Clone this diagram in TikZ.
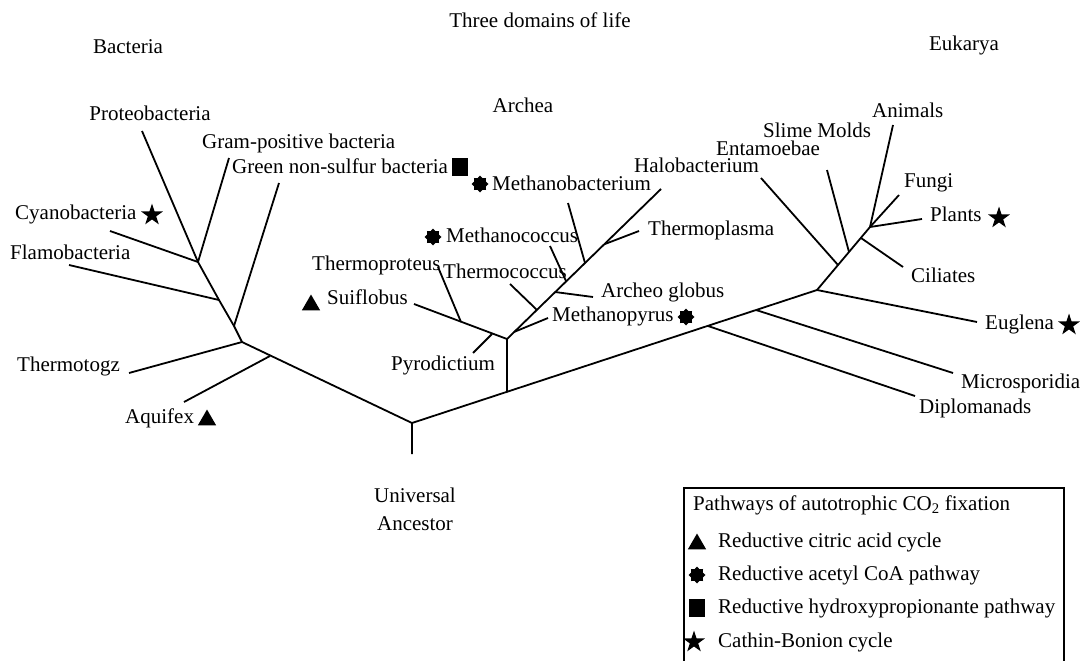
\documentclass[tikz,border=0pt]{standalone}
\usepackage{fontspec}
\setmainfont{Liberation Serif}
\usetikzlibrary{shapes.geometric}

\begin{document}
\begin{tikzpicture}[
        x=1pt, y=-1pt,
        every node/.style={font=\fontsize{21}{28}\selectfont},
        taxon/.style={anchor=west, inner sep=0pt, text height=14pt, text depth=4pt},
        branch/.style={line width=1.8pt, line join=round},
        tri/.style={regular polygon, regular polygon sides=3, fill=black, inner sep=0pt, minimum size=21pt},
        coa/.style={star, star points=8, star point ratio=1.35, fill=black, inner sep=0pt, minimum size=17pt},
        sqr/.style={rectangle, fill=black, inner sep=0pt, minimum width=16pt, minimum height=18pt},
        cbstar/.style={star, star points=5, star point ratio=2.6, fill=black, inner sep=0pt, minimum size=23pt}
    ]
    \useasboundingbox (0,0) rectangle (1084,661);

    % headings
    \node (title) at (540,20) {Three domains of life};
    \node (bact) at (128,47) {Bacteria};
    \node (arch) at (523,105) {Archea};
    \node (euk) at (964,45) {Eukarya};

    % root
    \coordinate (root) at (412,423);
    \coordinate (ua-tip) at (412,454);
    \node[align=center] (ua) at (415,509) {Universal\\Ancestor};

    % bacteria
    \coordinate (bj1) at (242,342);
    \coordinate (aq-j) at (270,356);
    \coordinate (gn-j) at (234,326);
    \coordinate (fl-j) at (219,300);
    \coordinate (gp-j) at (198,262);
    \coordinate (pr-tip) at (142,131);
    \coordinate (gp-tip) at (229,158);
    \coordinate (gn-tip) at (279,183);
    \coordinate (cy-tip) at (110,231);
    \coordinate (fl-tip) at (69,265);
    \coordinate (tt-tip) at (129,373);
    \coordinate (aq-tip) at (184,402);

    \node (proteo) at (150,113) {Proteobacteria};
    \node[taxon] (gram) at (202,143) {Gram-positive bacteria};
    \node[taxon] (green) at (232,168) {Green non-sulfur bacteria};
    \node[taxon] (cyano) at (15,214) {Cyanobacteria};
    \node[taxon] (flamo) at (10,254) {Flamobacteria};
    \node[taxon] (thermotogz) at (17,366) {Thermotogz};
    \node[taxon] (aquifex) at (125,418) {Aquifex};
    \node[cbstar] (cyano-m) at (152,215) {};
    \node[tri] (aquifex-m) at (207,420) {};
    \node[sqr] (green-m) at (460,167) {};

    % archea
    \coordinate (aj0) at (507,392);
    \coordinate (aj1) at (507,339);
    \coordinate (tp-j) at (461,322);
    \coordinate (py-j) at (492,334);
    \coordinate (mp-j) at (514,332);
    \coordinate (tc-j) at (537,310);
    \coordinate (ag-j) at (555,292);
    \coordinate (mc-j) at (566,281);
    \coordinate (mb-j) at (585,263);
    \coordinate (tpl-j) at (605,244);
    \coordinate (su-tip) at (414,304);
    \coordinate (tp-tip) at (438,267);
    \coordinate (py-tip) at (473,353);
    \coordinate (mp-tip) at (548,318);
    \coordinate (tc-tip) at (510,284);
    \coordinate (ag-tip) at (593,297);
    \coordinate (mc-tip) at (550,246);
    \coordinate (mb-tip) at (568,203);
    \coordinate (tpl-tip) at (639,231);
    \coordinate (hb-tip) at (661,189);

    \node[taxon] (halo) at (634,167) {Halobacterium};
    \node[taxon] (mbact) at (492,185) {Methanobacterium};
    \node[taxon] (mcoc) at (446,237) {Methanococcus};
    \node[taxon] (tplasma) at (648,230) {Thermoplasma};
    \node[taxon] (tproteus) at (312,265) {Thermoproteus};
    \node[taxon] (tcoc) at (443,273) {Thermococcus};
    \node[taxon] (aglob) at (601,292) {Archeo globus};
    \node[taxon] (suif) at (327,299) {Suiflobus};
    \node[taxon] (mpyr) at (552,316) {Methanopyrus};
    \node[taxon] (pyro) at (391,365) {Pyrodictium};
    \node[coa] (mbact-m) at (480,184) {};
    \node[coa] (mcoc-m) at (433,237) {};
    \node[coa] (mpyr-m) at (686,317) {};
    \node[tri] (suif-m) at (311,305) {};

    % eukarya
    \coordinate (ej0) at (817,290);
    \coordinate (dp-j) at (708,326);
    \coordinate (ms-j) at (756,310);
    \coordinate (ej1) at (870,227);
    \coordinate (en-j) at (838,265);
    \coordinate (sm-j) at (849,252);
    \coordinate (ci-j) at (861,238);
    \coordinate (an-tip) at (893,125);
    \coordinate (fu-tip) at (899,195);
    \coordinate (pl-tip) at (922,219);
    \coordinate (ci-tip) at (903,267);
    \coordinate (sm-tip) at (827,170);
    \coordinate (en-tip) at (761,178);
    \coordinate (eu-tip) at (977,322);
    \coordinate (ms-tip) at (953,373);
    \coordinate (dp-tip) at (915,396);

    \node[taxon] (animals) at (872,112) {Animals};
    \node[taxon] (slime) at (763,132) {Slime Molds};
    \node[taxon] (entam) at (716,150) {Entamoebae};
    \node[taxon] (fungi) at (904,182) {Fungi};
    \node[taxon] (plants) at (930,216) {Plants};
    \node[taxon] (ciliates) at (911,277) {Ciliates};
    \node[taxon] (euglena) at (985,324) {Euglena};
    \node[taxon] (micro) at (961,383) {Microsporidia};
    \node[taxon] (diplo) at (919,408) {Diplomanads};
    \node[cbstar] (plants-m) at (999,218) {};
    \node[cbstar] (euglena-m) at (1069,325) {};

    % branches
    \draw[branch] (ua-tip) -- (root) -- (bj1);
    \draw[branch] (root) -- (ej0);
    \draw[branch] (bj1) -- (gn-j) -- (fl-j) -- (gp-j) -- (pr-tip);
    \draw[branch] (aq-j) -- (aq-tip);
    \draw[branch] (bj1) -- (tt-tip);
    \draw[branch] (gn-j) -- (gn-tip);
    \draw[branch] (fl-j) -- (fl-tip);
    \draw[branch] (gp-j) -- (gp-tip);
    \draw[branch] (gp-j) -- (cy-tip);

    \draw[branch] (aj0) -- (aj1) -- (su-tip);
    \draw[branch] (tp-j) -- (tp-tip);
    \draw[branch] (py-j) -- (py-tip);
    \draw[branch] (aj1) -- (hb-tip);
    \draw[branch] (mp-j) -- (mp-tip);
    \draw[branch] (tc-j) -- (tc-tip);
    \draw[branch] (ag-j) -- (ag-tip);
    \draw[branch] (mc-j) -- (mc-tip);
    \draw[branch] (mb-j) -- (mb-tip);
    \draw[branch] (tpl-j) -- (tpl-tip);

    \draw[branch] (dp-j) -- (dp-tip);
    \draw[branch] (ms-j) -- (ms-tip);
    \draw[branch] (ej0) -- (eu-tip);
    \draw[branch] (ej0) -- (ej1) -- (an-tip);
    \draw[branch] (ej1) -- (fu-tip);
    \draw[branch] (ej1) -- (pl-tip);
    \draw[branch] (en-j) -- (en-tip);
    \draw[branch] (sm-j) -- (sm-tip);
    \draw[branch] (ci-j) -- (ci-tip);

    % legend
    \coordinate (lg-sw) at (684,661);
    \coordinate (lg-nw) at (684,488);
    \coordinate (lg-ne) at (1064,488);
    \coordinate (lg-se) at (1064,661);
    \draw[line width=1.3pt] (lg-sw) -- (lg-nw) -- (lg-ne) -- (lg-se);
    \node[taxon] (lg-title) at (693,505) {Pathways of autotrophic CO\textsubscript{2} fixation};
    \node[tri] (lg-m1) at (697,544) {};
    \node[coa] (lg-m2) at (697,575) {};
    \node[sqr] (lg-m3) at (697,608) {};
    \node[cbstar] (lg-m4) at (694,642) {};
    \node[taxon] (lg-t1) at (718,542) {Reductive citric acid cycle};
    \node[taxon] (lg-t2) at (718,575) {Reductive acetyl CoA pathway};
    \node[taxon] (lg-t3) at (718,608) {Reductive hydroxypropionante pathway};
    \node[taxon] (lg-t4) at (718,642) {Cathin-Bonion cycle};
\end{tikzpicture}
\end{document}
